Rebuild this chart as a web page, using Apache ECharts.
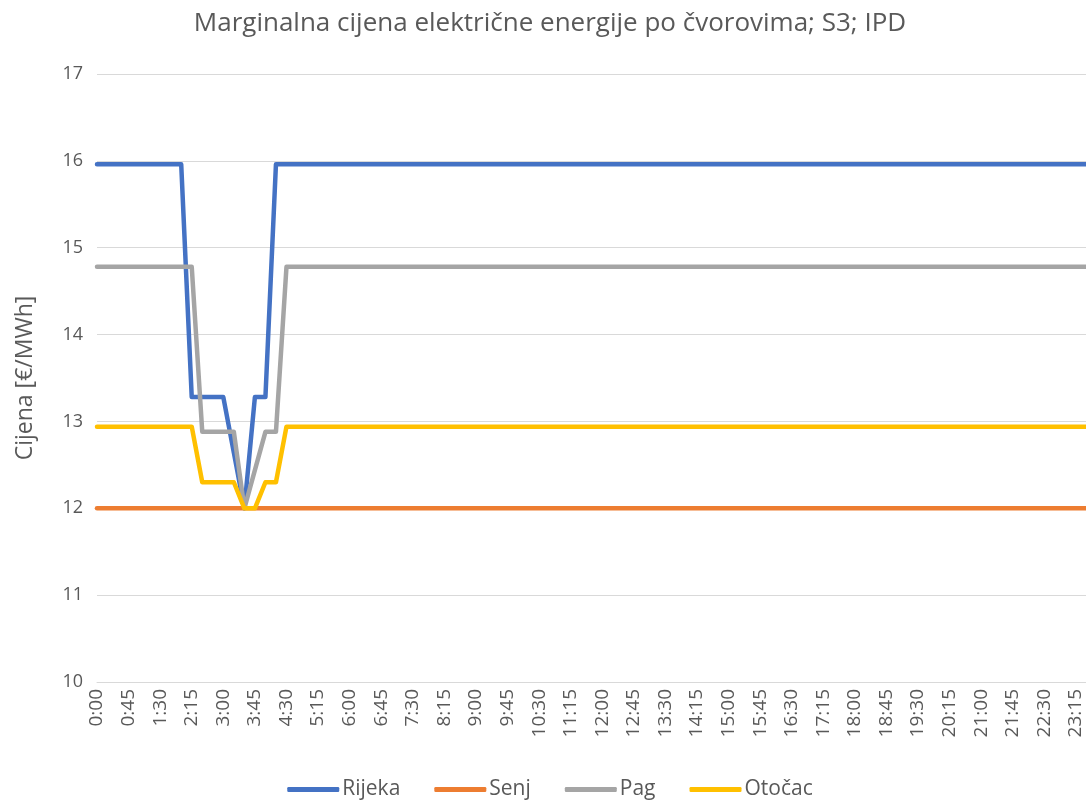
<!DOCTYPE html>
<html>
<head>
<meta charset="utf-8">
<title>Marginalna cijena</title>
<script src="https://cdn.jsdelivr.net/npm/echarts@6/dist/echarts.min.js"></script>
<style>
  html, body { margin: 0; padding: 0; overflow: hidden; background: #fff; }
  #chart { width: 1100px; height: 805px; }
</style>
</head>
<body>
<div id="chart"></div>
<script>
// 15-min intervals over the day
var times = [
  "0:00","0:15","0:30","0:45","1:00","1:15","1:30","1:45","2:00","2:15","2:30","2:45",
  "3:00","3:15","3:30","3:45","4:00","4:15","4:30","4:45","5:00","5:15","5:30","5:45",
  "6:00","6:15","6:30","6:45","7:00","7:15","7:30","7:45","8:00","8:15","8:30","8:45",
  "9:00","9:15","9:30","9:45","10:00","10:15","10:30","10:45","11:00","11:15","11:30","11:45",
  "12:00","12:15","12:30","12:45","13:00","13:15","13:30","13:45","14:00","14:15","14:30","14:45",
  "15:00","15:15","15:30","15:45","16:00","16:15","16:30","16:45","17:00","17:15","17:30","17:45",
  "18:00","18:15","18:30","18:45","19:00","19:15","19:30","19:45","20:00","20:15","20:30","20:45",
  "21:00","21:15","21:30","21:45","22:00","22:15","22:30","22:45","23:00","23:15","23:30","23:45"
];

var rijeka = [
  15.96,15.96,15.96,15.96,15.96,15.96,15.96,15.96,15.96,13.28,13.28,13.28,
  13.28,12.64,12.00,13.28,13.28,15.96,15.96,15.96,15.96,15.96,15.96,15.96,
  15.96,15.96,15.96,15.96,15.96,15.96,15.96,15.96,15.96,15.96,15.96,15.96,
  15.96,15.96,15.96,15.96,15.96,15.96,15.96,15.96,15.96,15.96,15.96,15.96,
  15.96,15.96,15.96,15.96,15.96,15.96,15.96,15.96,15.96,15.96,15.96,15.96,
  15.96,15.96,15.96,15.96,15.96,15.96,15.96,15.96,15.96,15.96,15.96,15.96,
  15.96,15.96,15.96,15.96,15.96,15.96,15.96,15.96,15.96,15.96,15.96,15.96,
  15.96,15.96,15.96,15.96,15.96,15.96,15.96,15.96,15.96,15.96,15.96,15.96
];

var senj = [
  12,12,12,12,12,12,12,12,12,12,12,12,
  12,12,12,12,12,12,12,12,12,12,12,12,
  12,12,12,12,12,12,12,12,12,12,12,12,
  12,12,12,12,12,12,12,12,12,12,12,12,
  12,12,12,12,12,12,12,12,12,12,12,12,
  12,12,12,12,12,12,12,12,12,12,12,12,
  12,12,12,12,12,12,12,12,12,12,12,12,
  12,12,12,12,12,12,12,12,12,12,12,12
];

var pag = [
  14.78,14.78,14.78,14.78,14.78,14.78,14.78,14.78,14.78,14.78,12.88,12.88,
  12.88,12.88,12.00,12.44,12.88,12.88,14.78,14.78,14.78,14.78,14.78,14.78,
  14.78,14.78,14.78,14.78,14.78,14.78,14.78,14.78,14.78,14.78,14.78,14.78,
  14.78,14.78,14.78,14.78,14.78,14.78,14.78,14.78,14.78,14.78,14.78,14.78,
  14.78,14.78,14.78,14.78,14.78,14.78,14.78,14.78,14.78,14.78,14.78,14.78,
  14.78,14.78,14.78,14.78,14.78,14.78,14.78,14.78,14.78,14.78,14.78,14.78,
  14.78,14.78,14.78,14.78,14.78,14.78,14.78,14.78,14.78,14.78,14.78,14.78,
  14.78,14.78,14.78,14.78,14.78,14.78,14.78,14.78,14.78,14.78,14.78,14.78
];

var otocac = [
  12.94,12.94,12.94,12.94,12.94,12.94,12.94,12.94,12.94,12.94,12.30,12.30,
  12.30,12.30,12.00,12.00,12.30,12.30,12.94,12.94,12.94,12.94,12.94,12.94,
  12.94,12.94,12.94,12.94,12.94,12.94,12.94,12.94,12.94,12.94,12.94,12.94,
  12.94,12.94,12.94,12.94,12.94,12.94,12.94,12.94,12.94,12.94,12.94,12.94,
  12.94,12.94,12.94,12.94,12.94,12.94,12.94,12.94,12.94,12.94,12.94,12.94,
  12.94,12.94,12.94,12.94,12.94,12.94,12.94,12.94,12.94,12.94,12.94,12.94,
  12.94,12.94,12.94,12.94,12.94,12.94,12.94,12.94,12.94,12.94,12.94,12.94,
  12.94,12.94,12.94,12.94,12.94,12.94,12.94,12.94,12.94,12.94,12.94,12.94
];

var names = ["Rijeka", "Senj", "Pag", "Otočac"];
var colors = ["#4472C4", "#ED7D31", "#A5A5A5", "#FFC000"];
var values = [rijeka, senj, pag, otocac];

var font = "'Open Sans', 'Noto Sans', sans-serif";
var textColor = "#595959";

var myChart = echarts.init(document.getElementById("chart"));

var series = [];
names.forEach(function (n, i) {
  series.push({
    name: n,
    type: "line",
    data: values[i],
    symbol: "none",
    color: colors[i],
    lineStyle: { width: 4.5, color: colors[i], cap: "round", join: "round" }
  });
});

var option = {
  animation: false,
  title: {
    text: "Marginalna cijena električne energije po čvorovima; S3; IPD",
    left: "center",
    top: 6,
    textStyle: { fontFamily: font, fontSize: 26, fontWeight: "normal", color: textColor }
  },
  legend: {
    bottom: 0,
    left: "center",
    icon: "roundRect",
    itemWidth: 52,
    itemHeight: 5,
    itemGap: 34,
    textStyle: { fontFamily: font, fontSize: 21, color: textColor, padding: [0, 0, 0, -2] },
    data: names
  },
  grid: {
    left: 97,
    right: 3,
    top: 74,
    bottom: 123
  },
  xAxis: {
    type: "category",
    boundaryGap: false,
    data: times,
    axisLine: { lineStyle: { color: "#d9d9d9" } },
    axisTick: { show: false },
    axisLabel: {
      interval: 2,
      rotate: 90,
      margin: 7,
      fontFamily: font,
      fontSize: 19,
      color: textColor
    },
    splitLine: { show: false }
  },
  yAxis: {
    type: "value",
    min: 10,
    max: 17,
    interval: 1,
    name: "Cijena [€/MWh]",
    nameLocation: "middle",
    nameGap: 60,
    nameTextStyle: { fontFamily: font, fontSize: 23, color: textColor },
    axisLine: { show: false },
    axisTick: { show: false },
    axisLabel: { margin: 14, fontFamily: font, fontSize: 18, color: textColor },
    splitLine: { lineStyle: { color: "#d9d9d9", width: 1 } }
  },
  series: series
};

myChart.setOption(option);
</script>
</body>
</html>
